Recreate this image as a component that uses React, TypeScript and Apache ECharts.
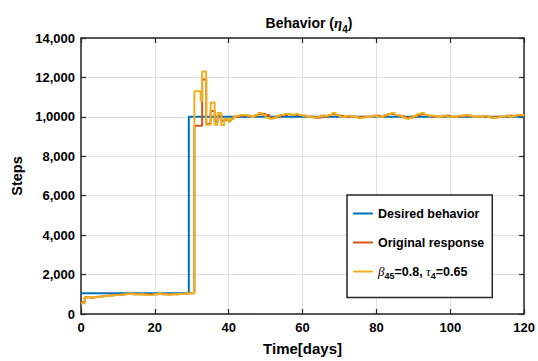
import React, { useEffect, useRef } from "react";
import * as echarts from "echarts";

const yTickLabels = ["0", "2,000", "4,000", "6,000", "8,000", "1,0000", "12,000", "14,000"];

const desiredDays = [0, 29.2, 120];
const desiredSteps = [1050, 10000, 10000];

// daily values, days 0..30
const tunedEarly = [550, 850, 820, 860, 880, 900, 920, 930, 950, 960, 980, 1000, 1020, 1050, 1000, 1000, 1020, 980, 970, 1000, 1000, 1050, 1000, 980, 1000, 1000, 1020, 1030, 1050, 1050, 1050];
const originalEarly = [600, 850, 830, 850, 870, 900, 930, 940, 950, 970, 980, 1000, 1030, 1040, 1000, 1000, 1010, 990, 980, 1000, 1000, 1040, 1000, 990, 1000, 1000, 1020, 1030, 1050, 1050, 1050];

// transient (days 30.7 .. 41.3)
const tunedTransDays = [30.7, 32.4, 32.8, 33.9, 35.1, 36.2, 37.0, 38.0, 38.8, 39.8, 40.5, 41.3];
const tunedTrans = [11300, 10800, 12300, 9600, 10730, 9600, 10200, 9570, 9900, 9750, 9900, 10000];
const originalTransDays = [30.7, 32.8, 33.9, 35.1, 36.2, 37.0, 38.0, 38.8, 39.8, 40.5, 41.3];
const originalTrans = [9550, 11900, 9650, 10300, 9750, 10050, 9800, 9850, 9800, 9900, 10000];

// daily values, days 42..120
const tunedLate = [10050, 10100, 10100, 10050, 10000, 10100, 10200, 10100, 9950, 9900, 9950, 10050, 10100, 10150, 10150, 10100, 10150, 10100, 10050, 10000, 10000, 9950, 10000, 10050, 10050, 10100, 10200, 10100, 10000, 10000, 10050, 10000, 10000, 9950, 9950, 10000, 10000, 10050, 10000, 10000, 10100, 10150, 10200, 10100, 10050, 9950, 9900, 9950, 10050, 10150, 10200, 10100, 10050, 10050, 10000, 10000, 10050, 10000, 10000, 10000, 10050, 10050, 10100, 10050, 10000, 10000, 10000, 10050, 10000, 9950, 9950, 10000, 10000, 10050, 10000, 10050, 10100, 10100, 10100];
const originalLate = [10000, 10050, 10100, 10050, 10000, 10050, 10150, 10150, 10100, 9950, 9950, 10000, 10100, 10100, 10150, 10100, 10100, 10100, 10050, 10000, 10000, 9950, 9950, 10050, 10000, 10100, 10150, 10100, 10050, 10000, 10000, 10000, 10000, 9950, 10000, 10000, 10000, 10050, 10050, 10000, 10050, 10150, 10150, 10100, 10050, 10000, 9950, 9950, 10000, 10100, 10150, 10100, 10050, 10000, 10000, 10000, 10050, 10050, 10000, 10000, 10000, 10050, 10050, 10050, 10000, 10000, 10000, 10000, 10000, 9950, 10000, 10000, 10000, 10050, 10050, 10050, 10100, 10050, 10100];

const earlyDays = tunedEarly.map((_, i) => i);
const lateDays = tunedLate.map((_, i) => 42 + i);

const pairs = (d: number[], v: number[]) => d.map((x, i) => [x, v[i]]);

const tunedData = [
  ...pairs(earlyDays, tunedEarly),
  ...pairs(tunedTransDays, tunedTrans),
  ...pairs(lateDays, tunedLate),
];
const originalData = [
  ...pairs(earlyDays, originalEarly),
  ...pairs(originalTransDays, originalTrans),
  ...pairs(lateDays, originalLate),
];
const desiredData = pairs(desiredDays, desiredSteps);

const NAME_D = "Desired behavior";
const NAME_O = "Original response";
const NAME_T = "β45=0.8, τ4=0.65";

const FONT = "'Liberation Sans', Arial, Helvetica, sans-serif";
const AX = "#262626";

export default function App() {
  const ref = useRef<HTMLDivElement>(null);
  useEffect(() => {
    if (!ref.current) return;
    const chart = echarts.init(ref.current, undefined, { renderer: "svg" });
    const axisCommon = {
      axisLine: { show: true, onZero: false, lineStyle: { color: AX, width: 1.5 } },
      axisTick: { show: true, inside: true, length: 5, lineStyle: { color: AX, width: 1.2 } },
    };
    chart.setOption({
      animation: false,
      backgroundColor: "#fff",
      textStyle: { fontFamily: FONT },
      title: {
        text: "{b|Behavior (}{g|η}{s|4}{b|)}",
        left: 304,
        textAlign: "center",
        top: 7,
        textStyle: {
          rich: {
            b: { fontSize: 14, fontWeight: "bold", color: "#000", fontFamily: FONT, lineHeight: 22, verticalAlign: "middle" },
            g: { fontSize: 15, fontStyle: "italic", color: "#000", fontFamily: "'Liberation Serif', serif", lineHeight: 22, verticalAlign: "middle" },
            s: { fontSize: 10, fontWeight: "bold", color: "#000", fontFamily: FONT, lineHeight: 10, verticalAlign: "bottom" },
          },
        },
      },
      grid: { left: 81, right: 10, top: 38, bottom: 43, containLabel: false },
      xAxis: [
        {
          type: "value",
          min: 0,
          max: 120,
          interval: 20,
          name: "Time[days]",
          nameLocation: "middle",
          nameGap: 27,
          nameTextStyle: { fontSize: 15, fontWeight: "bold", color: "#000", fontFamily: FONT },
          axisLabel: { fontSize: 13, fontWeight: "bold", color: "#000", margin: 7, fontFamily: FONT },
          splitLine: { show: true, lineStyle: { color: "#e0e0e0", width: 1 } },
          ...axisCommon,
        },
        {
          type: "value",
          position: "top",
          min: 0,
          max: 120,
          interval: 20,
          axisLabel: { show: false },
          splitLine: { show: false },
          ...axisCommon,
        },
      ],
      yAxis: [
        {
          type: "value",
          min: 0,
          max: 14000,
          interval: 2000,
          name: "Steps",
          nameLocation: "middle",
          nameGap: 49,
          nameTextStyle: { fontSize: 14.5, fontWeight: "bold", color: "#000", fontFamily: FONT },
          axisLabel: {
            fontSize: 13,
            fontWeight: "bold",
            color: "#000",
            margin: 6,
            fontFamily: FONT,
            formatter: (v: number) => yTickLabels[Math.round(v / 2000)] ?? "",
          },
          splitLine: { show: true, lineStyle: { color: "#e0e0e0", width: 1 } },
          ...axisCommon,
        },
        {
          type: "value",
          position: "right",
          min: 0,
          max: 14000,
          interval: 2000,
          axisLabel: { show: false },
          splitLine: { show: false },
          ...axisCommon,
        },
      ],
      legend: {
        orient: "vertical",
        left: 347,
        top: 195,
        padding: [12, 8, 17, 6],
        itemGap: 16,
        itemWidth: 20,
        itemHeight: 2,
        icon: "rect",
        borderColor: AX,
        borderWidth: 1.5,
        backgroundColor: "#fff",
        data: [NAME_D, NAME_O, NAME_T],
        formatter: (name: string) =>
          name === NAME_T
            ? "{g|β}{s|45}{n|=0.8, }{g|τ}{s|4}{n|=0.65}"
            : "{n|" + name + "}",
        textStyle: {
          rich: {
            n: { fontSize: 12.5, fontWeight: "bold", color: "#000", fontFamily: FONT, lineHeight: 18, verticalAlign: "middle" },
            g: { fontSize: 13, fontStyle: "italic", color: "#000", fontFamily: "'Liberation Serif', serif", lineHeight: 18, verticalAlign: "middle" },
            s: { fontSize: 9, fontWeight: "bold", color: "#000", fontFamily: FONT, lineHeight: 8, verticalAlign: "bottom" },
          },
        },
      },
      series: [
        {
          name: NAME_D,
          type: "line",
          step: "end",
          showSymbol: false,
          data: desiredData,
          color: "#0072BD",
          lineStyle: { width: 2, color: "#0072BD" },
          z: 2,
        },
        {
          name: NAME_O,
          type: "line",
          step: "end",
          showSymbol: false,
          data: originalData,
          color: "#D95319",
          lineStyle: { width: 2, color: "#D95319" },
          z: 3,
        },
        {
          name: NAME_T,
          type: "line",
          step: "end",
          showSymbol: false,
          data: tunedData,
          color: "#EDB120",
          lineStyle: { width: 2, color: "#EDB120" },
          z: 4,
        },
      ],
    });
    return () => chart.dispose();
  }, []);
  return (
    <div
      ref={ref}
      style={{ position: "absolute", left: 0, top: 0, width: 538, height: 361 }}
    />
  );
}
